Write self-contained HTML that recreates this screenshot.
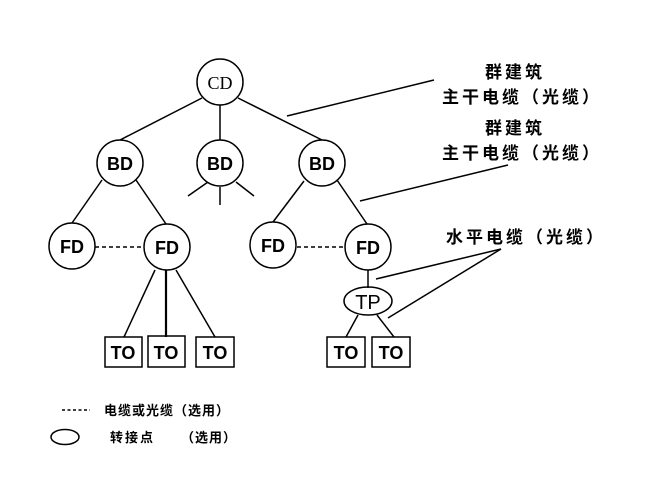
<!DOCTYPE html>
<html><head><meta charset="utf-8"><style>
body{margin:0;background:#fff;width:668px;height:499px;overflow:hidden}
svg text{font-family:"Liberation Sans","Noto Sans CJK SC",sans-serif}
</style></head><body>
<svg width="668" height="499" viewBox="0 0 668 499" xmlns="http://www.w3.org/2000/svg">
<g stroke="#000" stroke-width="1.5" fill="none">
<line x1="202" y1="98" x2="120" y2="140"/>
<line x1="220" y1="105" x2="220" y2="140"/>
<line x1="238" y1="98" x2="322" y2="140"/>
<line x1="208" y1="182" x2="188" y2="196"/>
<line x1="220" y1="187" x2="220" y2="205"/>
<line x1="236" y1="182" x2="254" y2="196"/>
<line x1="102" y1="180" x2="72" y2="223"/>
<line x1="136" y1="180" x2="166" y2="224"/>
<line x1="304" y1="181" x2="273" y2="222"/>
<line x1="337" y1="180" x2="367" y2="224"/>
<line x1="95" y1="247" x2="143" y2="247" stroke-dasharray="4,3"/>
<line x1="297" y1="247" x2="344" y2="247" stroke-dasharray="4,3"/>
<line x1="155" y1="270" x2="124" y2="337"/>
<line x1="166" y1="270" x2="166" y2="337" stroke-width="2.2"/>
<line x1="176" y1="270" x2="215" y2="337"/>
<line x1="368" y1="270" x2="368" y2="288"/>
<line x1="358" y1="315" x2="346" y2="337"/>
<line x1="377" y1="315" x2="394" y2="337"/>
<line x1="287" y1="116" x2="434" y2="80"/>
<line x1="360" y1="201" x2="508" y2="165"/>
<line x1="376" y1="279" x2="501" y2="249"/>
<line x1="388" y1="318" x2="501" y2="249"/>
<line x1="62" y1="410" x2="90" y2="410" stroke-dasharray="3,2.5"/>
<ellipse cx="65" cy="437" rx="14" ry="7.5"/>
<circle cx="220" cy="82" r="23"/>
<circle cx="120" cy="163" r="23"/>
<circle cx="220" cy="163" r="23"/>
<circle cx="322" cy="163" r="23"/>
<circle cx="72" cy="246" r="23"/>
<circle cx="167" cy="247" r="23"/>
<circle cx="273" cy="245" r="23"/>
<circle cx="368" cy="247" r="23"/>
<ellipse cx="368" cy="301" rx="24" ry="14"/>
<rect x="105" y="337" width="37" height="30"/>
<rect x="148" y="336" width="37" height="31"/>
<rect x="196" y="337" width="38" height="30"/>
<rect x="327" y="337" width="38" height="30"/>
<rect x="372" y="337" width="38" height="30"/>
</g>
<g font-size="18" font-weight="bold" text-anchor="middle">
<text x="220" y="89" font-weight="normal" style="font-family:'Liberation Serif',serif">CD</text>
<text x="120" y="170">BD</text><text x="220" y="170">BD</text><text x="322" y="170">BD</text>
<text x="72" y="253">FD</text><text x="167" y="254">FD</text><text x="273" y="252">FD</text><text x="368" y="254">FD</text>
<text x="368" y="309" font-size="20" font-weight="normal">TP</text>
<text x="123" y="359">TO</text><text x="166" y="359">TO</text><text x="215" y="359">TO</text>
<text x="346" y="359">TO</text><text x="391" y="359">TO</text>
</g>
<g font-size="17" text-anchor="middle" letter-spacing="3" font-weight="bold">
<text x="515" y="78">群建筑</text>
<text x="522" y="103">主干电缆（光缆）</text>
<text x="515" y="134">群建筑</text>
<text x="522" y="159">主干电缆（光缆）</text>
<text x="526" y="243">水平电缆（光缆）</text>
</g>
<g font-size="13" font-weight="bold">
<text x="104" y="415" letter-spacing="1">电缆或光缆（选用）</text>
<text x="110" y="442" letter-spacing="2">转接点</text>
<text x="181" y="442" letter-spacing="1">（选用）</text>
</g>
</svg>
</body></html>
